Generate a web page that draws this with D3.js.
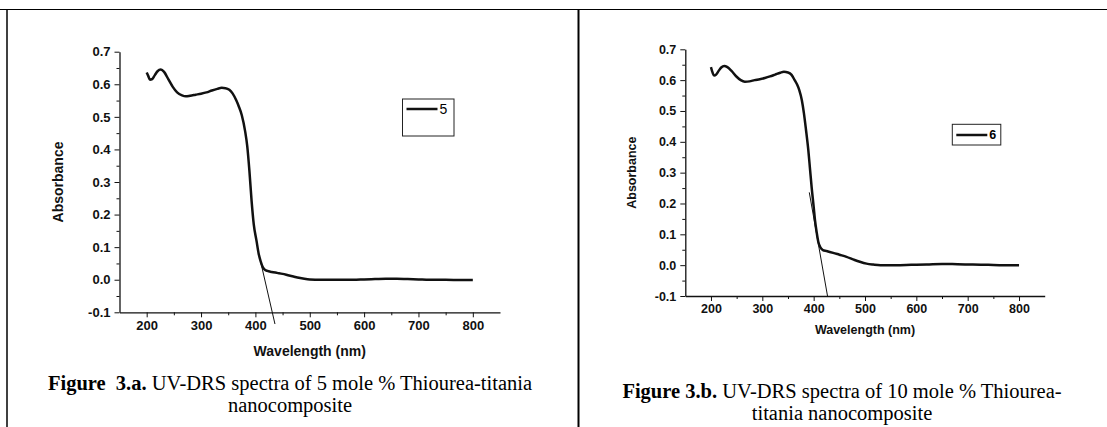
<!DOCTYPE html>
<html lang="en">
<head>
    <meta charset="UTF-8">
    <title>UV-DRS spectra of Thiourea-titania nanocomposites</title>
    <script src="https://d3js.org/d3.v7.min.js"></script>
    <style>
        body {
            margin: 0;
            background-color: #ffffff;
        }

        svg {
            display: block;
        }

        .tick text {
            font-family: Arial, "Liberation Sans", sans-serif;
            font-weight: bold;
            fill: #111;
        }

        .axis-title {
            font-family: Arial, "Liberation Sans", sans-serif;
            font-weight: bold;
            fill: #111;
        }

        .caption {
            font-family: "Times New Roman", "Liberation Serif", serif;
            fill: #000;
        }
    </style>
</head>

<body>
    <div id="figure"></div>

    <script>
        const svgWidth = 1107, svgHeight = 427;

        // shared axis ticks
        const xTicks = [200, 300, 400, 500, 600, 700, 800];
        const yTicks = [-0.1, 0.0, 0.1, 0.2, 0.3, 0.4, 0.5, 0.6, 0.7];

        // Figure 3.a - 5 mole %
        const wavelengthA = [200, 203, 206, 210, 215, 220, 226, 232, 240, 248, 256, 265, 272, 280, 290, 300, 310, 320, 330, 338, 345, 352, 358, 365, 369, 375, 381, 385, 389, 393, 397, 402, 406, 410, 414, 418, 422, 430, 440, 450, 460, 470, 480, 490, 500, 520, 550, 580, 600, 620, 640, 660, 680, 700, 720, 750, 780, 800];
        const absorbanceA = [0.636, 0.625, 0.614, 0.616, 0.628, 0.640, 0.645, 0.638, 0.615, 0.592, 0.575, 0.566, 0.563, 0.565, 0.568, 0.571, 0.575, 0.581, 0.586, 0.589, 0.588, 0.583, 0.572, 0.550, 0.534, 0.505, 0.457, 0.410, 0.334, 0.242, 0.170, 0.120, 0.080, 0.055, 0.037, 0.030, 0.027, 0.024, 0.021, 0.018, 0.014, 0.010, 0.006, 0.003, 0.001, 0.000, 0.000, 0.000, 0.001, 0.002, 0.003, 0.003, 0.002, 0.001, 0.000, 0.000, -0.001, -0.001];
        const tangentA = [[409, 0.06], [436, -0.136]];

        // Figure 3.b - 10 mole %
        const wavelengthB = [200, 203, 206, 210, 215, 220, 226, 232, 240, 250, 258, 266, 275, 285, 295, 305, 315, 325, 335, 342, 350, 357, 363, 368, 372, 377, 381, 385, 389.6, 393, 396, 400, 402.6, 406, 409, 413, 418, 425, 438, 450, 464, 478, 490, 503, 516, 530, 560, 590, 620, 650, 680, 710, 740, 770, 800];
        const absorbanceB = [0.642, 0.625, 0.615, 0.618, 0.630, 0.641, 0.646, 0.642, 0.630, 0.611, 0.600, 0.595, 0.596, 0.600, 0.603, 0.607, 0.612, 0.618, 0.624, 0.627, 0.625, 0.617, 0.600, 0.585, 0.568, 0.535, 0.493, 0.440, 0.373, 0.310, 0.254, 0.190, 0.146, 0.105, 0.076, 0.058, 0.049, 0.046, 0.040, 0.034, 0.027, 0.018, 0.011, 0.005, 0.002, 0.000, 0.000, 0.001, 0.002, 0.004, 0.003, 0.002, 0.001, 0.000, 0.000];
        const tangentB = [[391.5, 0.236], [427.3, -0.103]];

        const svg = d3.select("#figure").append("svg")
            .attr("width", svgWidth).attr("height", svgHeight);

        // page frame: top rule, left rule, middle divider
        svg.append("line").attr("x1", 0).attr("x2", svgWidth).attr("y1", 9.5).attr("y2", 9.5)
            .attr("stroke", "#000").attr("stroke-width", 1.2);
        svg.append("line").attr("x1", 7).attr("x2", 7).attr("y1", 9.5).attr("y2", svgHeight)
            .attr("stroke", "#000").attr("stroke-width", 1.5);
        svg.append("line").attr("x1", 578.5).attr("x2", 578.5).attr("y1", 9.5).attr("y2", svgHeight)
            .attr("stroke", "#000").attr("stroke-width", 2);

        drawSpectrum({
            xs: wavelengthA, ys: absorbanceA, tangent: tangentA, label: "5",
            xRange: [119.5, 500], yRange: [312.3, 51.7],
            tickFont: 13, titleFont: 14, xTitleY: 356, yTitleX: 63,
            legend: { x: 402.5, y: 99, w: 51.5, h: 37, lineY: 109, bold: false, font: 14 }
        });

        drawSpectrum({
            xs: wavelengthB, ys: absorbanceB, tangent: tangentB, label: "6",
            xRange: [685.3, 1044.7], yRange: [296, 49.3],
            tickFont: 12.5, titleFont: 12.5, xTitleY: 334, yTitleX: 636,
            legend: { x: 952.3, y: 124.3, w: 48.5, h: 20.7, lineY: 135, bold: true, font: 12.5 }
        });

        // captions
        caption(290, 390, 412, "Figure  3.a.", " UV-DRS spectra of 5 mole % Thiourea-titania", "nanocomposite");
        caption(842, 398, 420, "Figure 3.b.", " UV-DRS spectra of 10 mole % Thiourea-", "titania nanocomposite");

        function drawSpectrum(cfg) {
            const x = d3.scaleLinear().domain([150, 850]).range(cfg.xRange);
            const y = d3.scaleLinear().domain([-0.1, 0.7]).range(cfg.yRange);

            const g = svg.append("g");

            // minor ticks first, then major axis with labels
            g.append("g")
                .attr("transform", `translate(0,${cfg.yRange[0]})`)
                .call(d3.axisBottom(x).tickValues(d3.range(250, 850, 100)).tickSize(3).tickFormat(""))
                .call(a => a.select(".domain").remove());
            g.append("g")
                .attr("transform", `translate(${cfg.xRange[0]},0)`)
                .call(d3.axisLeft(y).tickValues(d3.range(-0.05, 0.7, 0.1)).tickSize(3).tickFormat(""))
                .call(a => a.select(".domain").remove());

            const xAxis = g.append("g")
                .attr("transform", `translate(0,${cfg.yRange[0]})`)
                .call(d3.axisBottom(x).tickValues(xTicks).tickSize(5).tickSizeOuter(0).tickPadding(3));
            xAxis.selectAll("text").style("font-size", cfg.tickFont + "px");

            // plain hyphen for the negative label, as in the original
            const yFormat = d => d3.format(".1f")(d).replace("\u2212", "-");
            const yAxis = g.append("g")
                .attr("transform", `translate(${cfg.xRange[0]},0)`)
                .call(d3.axisLeft(y).tickValues(yTicks).tickSize(5).tickSizeOuter(0).tickPadding(4).tickFormat(yFormat));
            yAxis.selectAll("text").style("font-size", cfg.tickFont + "px");

            g.selectAll(".domain").attr("stroke", "#111").attr("stroke-width", 1.3);
            g.selectAll(".tick line").attr("stroke", "#111").attr("stroke-width", 1);

            g.append("text").attr("class", "axis-title")
                .attr("x", (cfg.xRange[0] + cfg.xRange[1]) / 2).attr("y", cfg.xTitleY)
                .attr("text-anchor", "middle")
                .style("font-size", cfg.titleFont + "px")
                .text("Wavelength (nm)");

            g.append("text").attr("class", "axis-title")
                .attr("transform", `translate(${cfg.yTitleX},${(cfg.yRange[0] + cfg.yRange[1]) / 2}) rotate(-90)`)
                .attr("text-anchor", "middle")
                .style("font-size", cfg.titleFont + "px")
                .text("Absorbance");

            const points = cfg.xs.map((d, i) => [d, cfg.ys[i]]);
            const line = d3.line().x(d => x(d[0])).y(d => y(d[1])).curve(d3.curveMonotoneX);

            g.append("path")
                .datum(points)
                .attr("fill", "none")
                .attr("stroke", "#111")
                .attr("stroke-width", 2.5)
                .attr("d", line);

            g.append("path")
                .datum(cfg.tangent)
                .attr("fill", "none")
                .attr("stroke", "#111")
                .attr("stroke-width", 1)
                .attr("d", d3.line().x(d => x(d[0])).y(d => y(d[1])));

            // legend
            const lg = cfg.legend;
            g.append("rect")
                .attr("x", lg.x).attr("y", lg.y).attr("width", lg.w).attr("height", lg.h)
                .attr("fill", "#fff").attr("stroke", "#222").attr("stroke-width", 1);
            g.append("line")
                .attr("x1", lg.x + 4).attr("x2", lg.x + 35).attr("y1", lg.lineY).attr("y2", lg.lineY)
                .attr("stroke", "#111").attr("stroke-width", 2.5);
            g.append("text")
                .attr("x", lg.x + 37).attr("y", lg.lineY)
                .attr("dy", "0.35em")
                .style("font-family", "Arial, 'Liberation Sans', sans-serif")
                .style("font-weight", lg.bold ? "bold" : "normal")
                .style("font-size", lg.font + "px")
                .text(cfg.label);
        }

        function caption(cx, y1, y2, boldPart, restPart, line2) {
            const t = svg.append("text").attr("class", "caption")
                .attr("x", cx).attr("y", y1)
                .attr("text-anchor", "middle")
                .style("font-size", "20.5px")
                .style("white-space", "pre");
            t.append("tspan").style("font-weight", "bold").text(boldPart);
            t.append("tspan").text(restPart);

            svg.append("text").attr("class", "caption")
                .attr("x", cx).attr("y", y2)
                .attr("text-anchor", "middle")
                .style("font-size", "20.5px")
                .text(line2);
        }
    </script>
</body>
</html>
